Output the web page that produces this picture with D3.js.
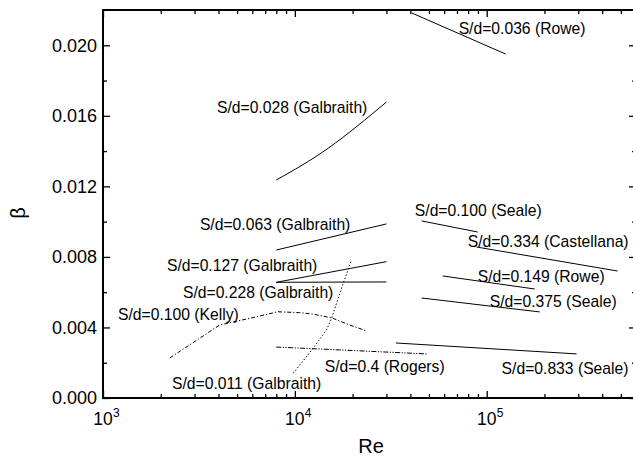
<!DOCTYPE html>
<meta charset="utf-8">
<style>
body { margin: 0; background: #fff; }
svg text { font-family: "Liberation Sans", Arial, Helvetica, sans-serif; fill: #000; }
.curve { fill: none; stroke: #000; stroke-width: 1; }
.axis path { display: none; }
.axis line { stroke: #000; stroke-width: 1.3; }
.frame { fill: none; stroke: #000; stroke-width: 2; }
</style>

<svg width="633" height="460"></svg>

<script src="https://cdn.jsdelivr.net/npm/d3@7"></script>
<script>
// dados: [Re, beta]
var rowe036      = [[40700, 0.02183], [125600, 0.0195]];
var galbraith028 = [[8000, 0.01236], [15000, 0.01418], [30000, 0.01678]];
var galbraith063 = [[8000, 0.00839], [30000, 0.00987]];
var galbraith127 = [[8000, 0.00656], [30000, 0.00773]];
var galbraith228 = [[8000, 0.00656], [30000, 0.00658]];
var kelly100     = [[2230, 0.00227], [4060, 0.00414], [5830, 0.00452], [8150, 0.00489], [10600, 0.00484],
                    [12400, 0.00476], [15600, 0.00454], [19300, 0.00414], [23700, 0.0038]];
var galbraith011 = [[9800, 0.0014], [12450, 0.00282], [14620, 0.00386], [15530, 0.00452], [17870, 0.0065], [19730, 0.00782]];
var rogers04     = [[8000, 0.00289], [48700, 0.0025]];
var seale833     = [[33600, 0.00312], [294000, 0.0025]];
var seale100     = [[45800, 0.01004], [89800, 0.00941]];
var castellana334 = [[88700, 0.00856], [481000, 0.0072]];
var rowe149      = [[59000, 0.00692], [178000, 0.00618]];
var seale375     = [[45800, 0.00567], [189000, 0.00488]];

// tipo de linha de cada curva
var solid = [rowe036, galbraith028, galbraith063, galbraith127, galbraith228, seale833, seale100, castellana334, rowe149, seale375];
var dotted = [galbraith011];
var dashDot = [kelly100];
var dashDotDot = [rogers04];

// rotulos: texto e ancora (Re, beta)
var labelText = ["S/d=0.036 (Rowe)", "S/d=0.028 (Galbraith)", "S/d=0.063 (Galbraith)", "S/d=0.127 (Galbraith)",
                 "S/d=0.228 (Galbraith)", "S/d=0.100 (Kelly)", "S/d=0.011 (Galbraith)", "S/d=0.4 (Rogers)",
                 "S/d=0.833 (Seale)", "S/d=0.100 (Seale)", "S/d=0.334 (Castellana)", "S/d=0.149 (Rowe)", "S/d=0.375 (Seale)"];
var labelRe   = [71400, 3925, 3200, 2154, 2610, 1197, 2288, 14320, 119600, 42200, 79600, 89800, 103700];
var labelBeta = [0.02064, 0.01616, 0.00953, 0.0072, 0.00567, 0.00442, 0.00051, 0.00147, 0.00136, 0.01032, 0.00856, 0.00658, 0.00516];

// eixos
var xMajor = [1e3, 1e4, 1e5];
var xExp = ["3", "4", "5"];
var yMajor = [0, 0.004, 0.008, 0.012, 0.016, 0.020];
var yMinor = [0.002, 0.006, 0.010, 0.014, 0.018];

var svg = d3.select("svg"),
    mLeft = 103, mTop = 10, width = 533, height = 388;

var x = d3.scaleLog().domain([1e3, 6e5]).range([mLeft, mLeft + width]);
var y = d3.scaleLinear().domain([0, 0.022]).range([mTop + height, mTop]);

var xMinor = [];
xMajor.forEach(function(dec) {
  for (var k = 2; k <= 9; k++) if (dec * k < 6e5) xMinor.push(dec * k);
});

function ticks(axis, values, size, tx, ty) {
  svg.append("g")
      .attr("class", "axis")
      .attr("transform", "translate(" + tx + "," + ty + ")")
      .call(axis.tickValues(values).tickSize(-size).tickSizeOuter(0).tickFormat(""));
}
ticks(d3.axisBottom(x), xMajor, 7, 0, mTop + height);
ticks(d3.axisBottom(x), xMinor, 4, 0, mTop + height);
ticks(d3.axisTop(x), xMajor, 7, 0, mTop);
ticks(d3.axisTop(x), xMinor, 4, 0, mTop);
ticks(d3.axisRight(y), yMajor, 7, mLeft + width, 0);
ticks(d3.axisRight(y), yMinor, 4, mLeft + width, 0);
ticks(d3.axisLeft(y), yMinor, 4, mLeft, 0);

// eixo esquerdo com rotulos
svg.append("g")
    .attr("class", "axis")
    .attr("transform", "translate(" + mLeft + ",0)")
    .call(d3.axisLeft(y).tickValues(yMajor).tickSize(-7).tickSizeOuter(0).tickPadding(6).tickFormat(d3.format(".3f")))
    .selectAll("text")
      .attr("font-size", 18)
      .attr("font-family", null);

// rotulos do eixo x: 10^n
var xl = svg.append("g").selectAll("g").data(xMajor).enter().append("g");
xl.append("text")
    .attr("x", function(d) { return x(d); })
    .attr("y", mTop + height + 27)
    .attr("text-anchor", "middle")
    .attr("font-size", 17.5)
    .text("10");
xl.append("text")
    .attr("x", function(d) { return x(d) + 10; })
    .attr("y", mTop + height + 19)
    .attr("font-size", 12)
    .text(function(d, i) { return xExp[i]; });

svg.append("text")
    .attr("x", 371).attr("y", 453)
    .attr("text-anchor", "middle")
    .attr("font-size", 20)
    .text("Re");

svg.append("text")
    .attr("transform", "translate(25,213) rotate(-90)")
    .attr("text-anchor", "middle")
    .attr("font-size", 20)
    .text("β");

// curvas
var line = d3.line()
    .x(function(d) { return x(d[0]); })
    .y(function(d) { return y(d[1]); });
var smooth = d3.line()
    .curve(d3.curveNatural)
    .x(function(d) { return x(d[0]); })
    .y(function(d) { return y(d[1]); });

function draw(list, dash, gen) {
  svg.append("g").selectAll("path")
    .data(list)
    .enter()
    .append("path")
      .attr("class", "curve")
      .attr("stroke-dasharray", dash)
      .attr("d", gen);
}
draw(solid, null, smooth);
draw(dotted, "1.4,2", line);
draw(dashDot, "4,2,1.2,2", line);
draw(dashDotDot, "5,1.5,1.2,1.5,1.2,1.5", line);

svg.append("rect")
    .attr("class", "frame")
    .attr("x", mLeft).attr("y", mTop)
    .attr("width", width).attr("height", height);

svg.append("g").selectAll("text")
    .data(labelText)
    .enter()
    .append("text")
      .attr("x", function(d, i) { return x(labelRe[i]); })
      .attr("y", function(d, i) { return y(labelBeta[i]); })
      .attr("font-size", 15.7)
      .text(function(d) { return d; });
</script>
